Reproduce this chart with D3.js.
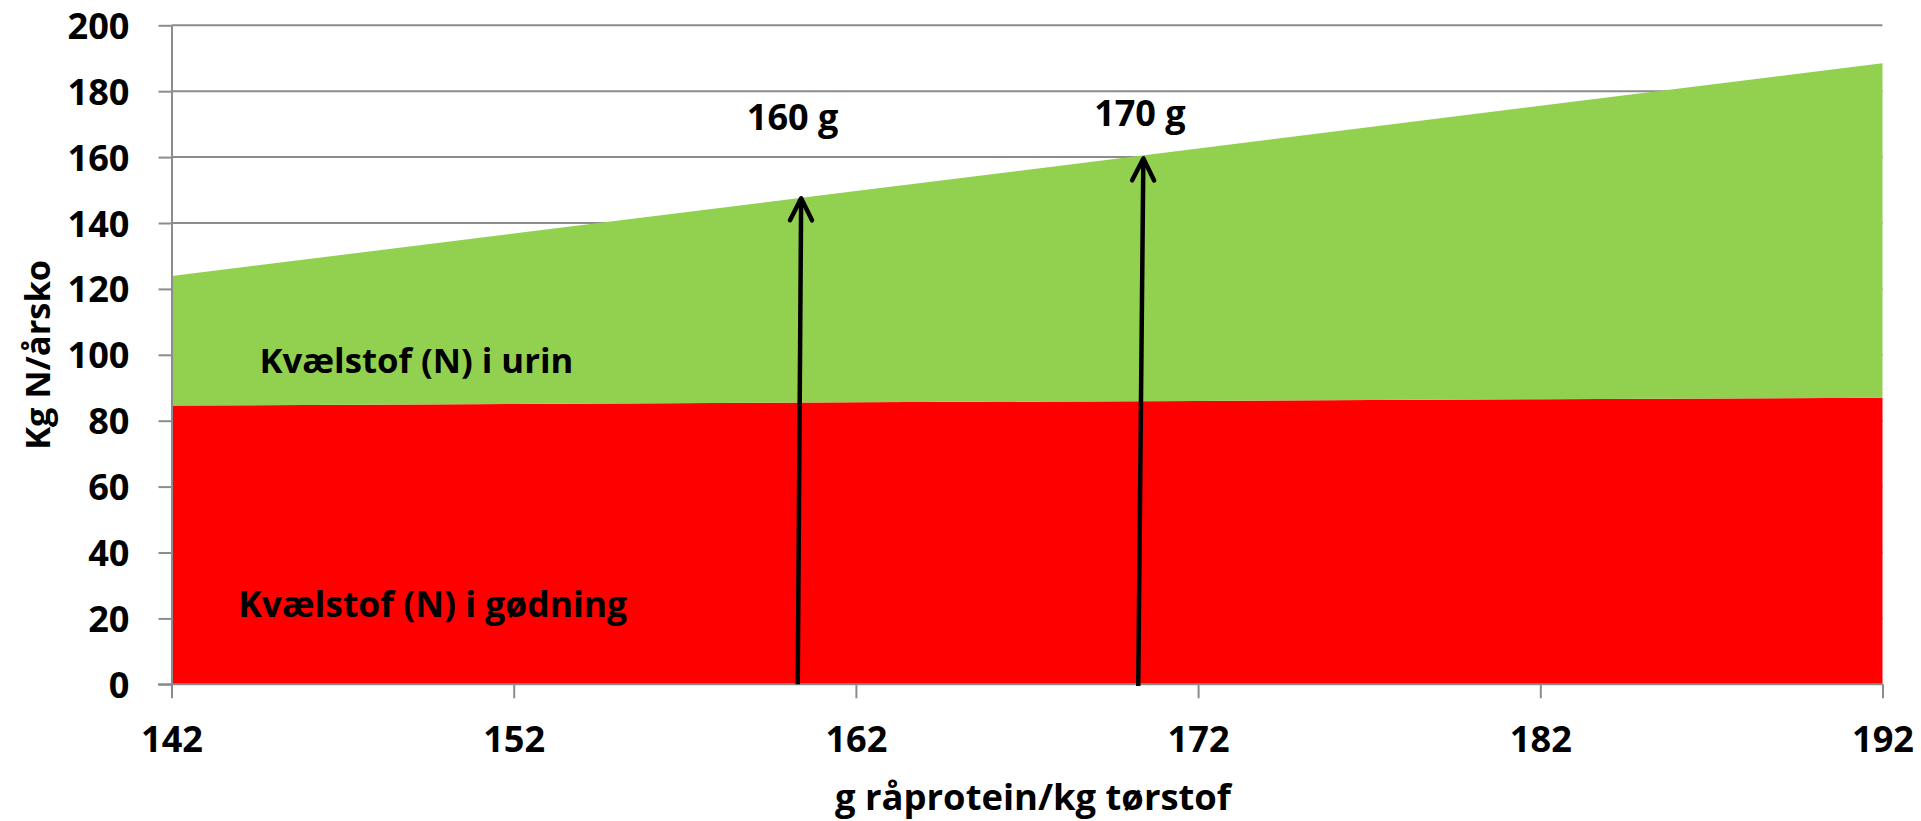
<!DOCTYPE html>
<html>
<head>
<meta charset="utf-8">
<script src="https://cdn.jsdelivr.net/npm/d3@7"></script>
<style>
  html, body { margin: 0; padding: 0; background: #fff; }
  svg { display: block; }
  text { font-family: "Open Sans", "Noto Sans", sans-serif; font-weight: 700; fill: #000; }
</style>
</head>
<body>
<svg id="chart" width="1921" height="821"></svg>
<script>
// ---- data ----
const categories = [142, 152, 162, 172, 182, 192];          // g råprotein/kg tørstof
const godning    = [84.6, 85.1, 85.6, 86.0, 86.5, 87.0];    // Kvælstof (N) i gødning
const urin       = [39.3, 51.7, 64.1, 76.6, 89.1, 101.5];   // Kvælstof (N) i urin
const xTicks     = [142, 152, 162, 172, 182, 192];
const yTicks     = [0, 20, 40, 60, 80, 100, 120, 140, 160, 180, 200];
const arrows     = [ // start (x0,y0) -> tip (x1,y1), in data units
  { x0: 160.3, y0: 0,    x1: 160.4, y1: 147.5, label: "160 g", lx: 160.15, ly: 168.2 },
  { x0: 170.25, y0: -0.5, x1: 170.4, y1: 159.6, label: "170 g", lx: 170.3,  ly: 169.5 }
];
const seriesLabels = [
  { text: "Kvælstof (N) i urin",    x: 144.57, y: 94.4 },
  { text: "Kvælstof (N) i gødning", x: 143.95, y: 20.5 }
];

// ---- layout ----
const W = 1921, H = 821;
const m = { left: 171.5, top: 25.3, right: W - 1882.5, bottom: H - 684.3 };
const iw = W - m.left - m.right, ih = H - m.top - m.bottom;
const FS = 36;

// scale a text's font size so its rendered width matches the reference width (Calibri fallback)
function fitWidth(sel, target) {
  sel.each(function () {
    const fs = parseFloat(this.getAttribute("font-size")) || FS;
    const w = this.getComputedTextLength();
    if (w > 0) this.setAttribute("font-size", (fs * target / w).toFixed(2));
  });
}

const svg = d3.select("#chart");
const g = svg.append("g").attr("transform", `translate(${m.left},${m.top})`);

const x = d3.scaleLinear().domain([142, 192]).range([0, iw]);
const y = d3.scaleLinear().domain([0, 200]).range([ih, 0]);

const rows = categories.map((c, i) => ({ c, g: godning[i], u: urin[i] }));
const stack = d3.stack().keys(["g", "u"])(rows);
const colors = { g: "#FF0000", u: "#92D050" };

// gridlines
g.append("g").selectAll("line").data(yTicks.filter(d => d > 0)).join("line")
  .attr("x1", 0).attr("x2", iw)
  .attr("y1", d => y(d)).attr("y2", d => y(d))
  .attr("stroke", "#8c8c8c").attr("stroke-width", 2);

// areas
const area = d3.area()
  .x(d => x(d.data.c))
  .y0(d => y(d[0]))
  .y1(d => y(d[1]));
g.append("g").selectAll("path").data(stack).join("path")
  .attr("d", area)
  .attr("fill", d => colors[d.key]);

// tick font size calibrated on the "200" label width
const probe = svg.append("text").attr("font-size", FS).text("200");
const tickFS = FS * 62 / probe.node().getComputedTextLength();
probe.remove();

// axes
const yAxis = g.append("g").call(d3.axisLeft(y).tickValues(yTicks).tickSize(13).tickPadding(29).tickSizeOuter(0));
yAxis.select(".domain").attr("stroke", "#8c8c8c").attr("stroke-width", 2);
yAxis.selectAll(".tick line").attr("stroke", "#8c8c8c").attr("stroke-width", 2);
yAxis.selectAll(".tick text").attr("font-size", tickFS).attr("dy", "0.36em")
  .style("font-family", "'Open Sans', sans-serif").style("font-weight", 700).attr("fill", "#000");

const xAxis = g.append("g").attr("transform", `translate(0,${ih})`)
  .call(d3.axisBottom(x).tickValues(xTicks).tickSize(14).tickSizeOuter(0));
xAxis.select(".domain").attr("stroke", "#8c8c8c").attr("stroke-width", 2)
  .attr("d", `M-13.5,0H${iw}`);
xAxis.selectAll(".tick line").attr("stroke", "#8c8c8c").attr("stroke-width", 2);
xAxis.selectAll(".tick text").attr("font-size", tickFS).attr("y", 68).attr("dy", 0)
  .style("font-family", "'Open Sans', sans-serif").style("font-weight", 700).attr("fill", "#000");

// series labels
const sl = g.append("g").selectAll("text").data(seriesLabels).join("text")
  .attr("x", d => x(d.x)).attr("y", d => y(d.y))
  .attr("font-size", FS).text(d => d.text);
fitWidth(sl.filter((d, i) => i === 0), 314);
fitWidth(sl.filter((d, i) => i === 1), 389);

// arrows
const ag = g.append("g");
arrows.forEach(a => {
  const X0 = x(a.x0), Y0 = y(a.y0), X1 = x(a.x1), Y1 = y(a.y1);
  const dx = X1 - X0, dy = Y1 - Y0, L = Math.hypot(dx, dy);
  const ux = dx / L, uy = dy / L, px = -uy, py = ux;
  const hl = 22, hw = 11;
  ag.append("line").attr("x1", X0).attr("y1", Y0).attr("x2", X1).attr("y2", Y1)
    .attr("stroke", "#000").attr("stroke-width", 4.5);
  ag.append("path")
    .attr("d", `M${X1 - ux*hl + px*hw},${Y1 - uy*hl + py*hw}L${X1},${Y1}L${X1 - ux*hl - px*hw},${Y1 - uy*hl - py*hw}`)
    .attr("fill", "none").attr("stroke", "#000").attr("stroke-width", 4.5)
    .attr("stroke-linecap", "round").attr("stroke-linejoin", "round");
  const t = ag.append("text").attr("x", x(a.lx)).attr("y", y(a.ly))
    .attr("text-anchor", "middle").attr("font-size", FS).text(a.label);
  fitWidth(t, 91.6);
});

// axis titles
const xt = svg.append("text")
  .attr("x", m.left + iw / 2 + 6).attr("y", 810)
  .attr("text-anchor", "middle").attr("font-size", FS)
  .text("g råprotein/kg tørstof");
fitWidth(xt, 396);
const yt = svg.append("text")
  .attr("transform", `translate(49.5,${m.top + ih / 2}) rotate(-90)`)
  .attr("text-anchor", "middle").attr("font-size", FS)
  .text("Kg N/årsko");
fitWidth(yt, 190);
</script>
</body>
</html>
